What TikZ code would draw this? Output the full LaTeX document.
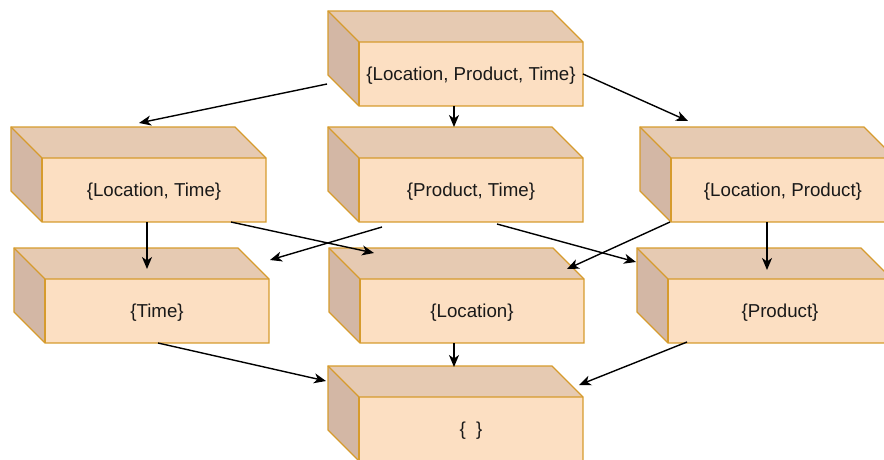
\documentclass[tikz,border=0pt]{standalone}
\usepackage{fontspec}
\setmainfont{Liberation Sans}
\usetikzlibrary{calc,arrows.meta}
\definecolor{frontc}{RGB}{252,223,194}
\definecolor{topc}{RGB}{230,202,178}
\definecolor{sidec}{RGB}{211,183,165}
\definecolor{edgec}{RGB}{214,155,45}
\tikzset{
  cubebb/.style={inner sep=0pt, outer sep=0pt, minimum width=255pt, minimum height=95pt, draw=none, anchor=north west},
  cubeedge/.style={draw=edgec, line width=1.4pt, line join=miter},
  cubelabel/.style={font=\fontsize{18.7}{22}\selectfont, text=black!90, inner sep=0pt},
  conn/.style={draw=black, line width=1.4pt, -{Stealth[length=12pt,width=10pt,inset=3.5pt]}}
}
\newcommand\cubebox[4]{%
  \node[cubebb] (#1) at (#2,#3) {};
  \fill[topc] (#1.north west) -- ++(224,0) -- ++(31,31) -- ++(-224,0) -- cycle;
  \fill[sidec] (#1.north west) -- ++(31,31) -- ++(0,64) -- ++(-31,-31) -- cycle;
  \fill[frontc] ($(#1.north west)+(31,31)$) rectangle ($(#1.north west)+(255,95)$);
  \draw[cubeedge] (#1.north west) -- ++(224,0) -- ++(31,31) -- ++(0,64) -- ++(-224,0) -- ++(-31,-31) -- cycle;
  \draw[cubeedge] (#1.north west) -- ++(31,31) -- ++(224,0);
  \draw[cubeedge] ($(#1.north west)+(31,31)$) -- ++(0,64);
  \node[cubelabel] (#1-text) at ($(#1.north west)+(143,64.5)$) {#4};
}
\begin{document}
\begin{tikzpicture}[x=1pt,y=-1pt]
\useasboundingbox (0,0) rectangle (884,459);
\cubebox{LPT}{328}{11}{\{Location, Product, Time\}}
\cubebox{LT}{11}{127}{\{Location, Time\}}
\cubebox{PT}{328}{127}{\{Product, Time\}}
\cubebox{LP}{640}{127}{\{Location, Product\}}
\cubebox{T}{14}{248}{\{Time\}}
\cubebox{L}{329}{248}{\{Location\}}
\cubebox{P}{637}{248}{\{Product\}}
\cubebox{E}{328}{366}{\{\ \ \}}

\draw[conn] ($(LPT.north west)+(-1,73)$) -- ($(LT.north west)+(128,-4)$);
\draw[conn] ($(LPT.north west)+(126,95)$) -- ($(PT.north west)+(126,0)$);
\draw[conn] ($(LPT.north west)+(255,63)$) -- ($(LP.north west)+(48,-6)$);

\draw[conn] ($(LT.north west)+(136,95)$) -- ($(T.north west)+(133,21)$);
\draw[conn] ($(LT.north west)+(220,95)$) -- ($(L.north west)+(45,5)$);
\draw[conn] ($(PT.north west)+(54,100)$) -- ($(T.north west)+(256,12)$);
\draw[conn] ($(PT.north west)+(169,97)$) -- ($(P.north west)+(-1,14)$);
\draw[conn] ($(LP.north west)+(30,95)$) -- ($(L.north west)+(238,21)$);
\draw[conn] ($(LP.north west)+(127,95)$) -- ($(P.north west)+(130,22)$);

\draw[conn] ($(T.north west)+(144,95)$) -- ($(E.north west)+(-2,15)$);
\draw[conn] ($(L.north west)+(125,95)$) -- ($(E.north west)+(126,1)$);
\draw[conn] ($(P.north west)+(50,94)$) -- ($(E.north west)+(251,19)$);
\end{tikzpicture}
\end{document}
